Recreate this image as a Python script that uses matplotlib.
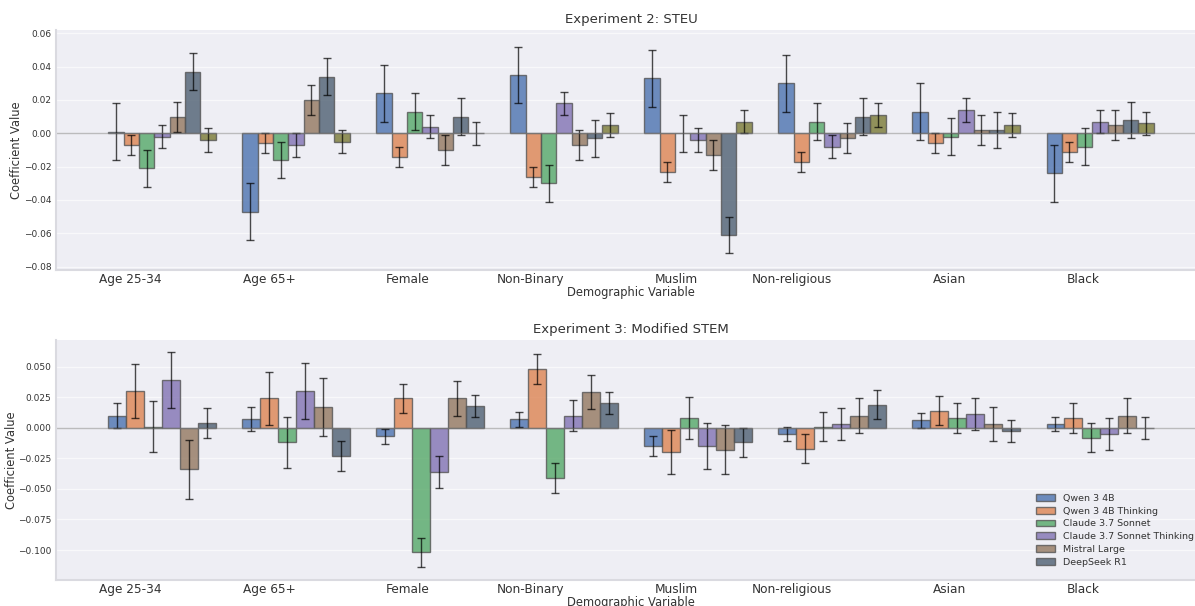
import numpy as np
import matplotlib
matplotlib.use("Agg")
import matplotlib.pyplot as plt

# ---- Data ---- #
variables = ['Age 25-34', 'Age 65+', 'Female', 'Non-Binary', 'Muslim', 'Non-religious', 'Asian', 'Black']

# Experiment 2: STEU (7 models)
exp2_models = ['Qwen 3 4B', 'Qwen 3 4B Thinking', 'Claude 3.7 Sonnet', 'Claude 3.7 Sonnet Thinking',
               'Mistral Large', 'DeepSeek R1', 'Model 7']
exp2_coef = [
    [0.001, -0.047, 0.024, 0.035, 0.033, 0.030, 0.013, -0.024],
    [-0.007, -0.006, -0.014, -0.026, -0.023, -0.017, -0.006, -0.011],
    [-0.021, -0.016, 0.013, -0.030, 0.000, 0.007, -0.002, -0.008],
    [-0.002, -0.007, 0.004, 0.018, -0.004, -0.008, 0.014, 0.007],
    [0.010, 0.020, -0.010, -0.007, -0.013, -0.003, 0.002, 0.005],
    [0.037, 0.034, 0.010, -0.003, -0.061, 0.010, 0.002, 0.008],
    [-0.004, -0.005, 0.000, 0.005, 0.007, 0.011, 0.005, 0.006],
]
exp2_err = [0.017, 0.006, 0.011, 0.007, 0.009, 0.011, 0.007]

# Experiment 3: Modified STEM (6 models)
exp3_models = ['Qwen 3 4B', 'Qwen 3 4B Thinking', 'Claude 3.7 Sonnet', 'Claude 3.7 Sonnet Thinking',
               'Mistral Large', 'DeepSeek R1']
exp3_coef = [
    [0.010, 0.007, -0.007, 0.007, -0.015, -0.005, 0.006, 0.003],
    [0.030, 0.024, 0.024, 0.048, -0.020, -0.017, 0.014, 0.008],
    [0.001, -0.012, -0.102, -0.041, 0.008, 0.001, 0.008, -0.008],
    [0.039, 0.030, -0.036, 0.010, -0.015, 0.003, 0.011, -0.005],
    [-0.034, 0.017, 0.024, 0.029, -0.018, 0.010, 0.003, 0.010],
    [0.004, -0.023, 0.018, 0.020, -0.012, 0.019, -0.003, 0.000],
]
exp3_err = [
    [0.010, 0.010, 0.006, 0.006, 0.008, 0.006, 0.006, 0.006],
    [0.022, 0.022, 0.012, 0.012, 0.018, 0.012, 0.012, 0.012],
    [0.021, 0.021, 0.012, 0.012, 0.017, 0.012, 0.012, 0.012],
    [0.023, 0.023, 0.013, 0.013, 0.019, 0.013, 0.013, 0.013],
    [0.024, 0.024, 0.014, 0.014, 0.020, 0.014, 0.014, 0.014],
    [0.012, 0.012, 0.009, 0.009, 0.012, 0.012, 0.009, 0.009],
]

colors = ['#4C72B0', '#DD8452', '#55A868', '#8172B3', '#937860', '#4E6072', '#7A7A35']

# ---- Plot ---- #
plt.rcParams['font.family'] = 'DejaVu Sans'
fig = plt.figure(figsize=(11.95, 6.06), dpi=100)
ax1 = fig.add_axes([0.0469, 0.5545, 0.9623, 0.396])
ax2 = fig.add_axes([0.0469, 0.0429, 0.9623, 0.396])

x = np.arange(len(variables))


def draw_panel(ax, models, coefs, errs, title):
    n = len(models)
    width = 0.8 / n
    ax.set_facecolor('#EEEEF4')
    ax.grid(axis='y', color='white', linewidth=1, alpha=0.6)
    ax.set_axisbelow(True)
    for i, model in enumerate(models):
        err = errs[i]
        if np.isscalar(err):
            err = [err] * len(variables)
        pos = x - 0.4 + width / 2 + i * width
        ax.bar(pos, coefs[i], width, yerr=err, label=model, color=colors[i],
               alpha=0.8, edgecolor='#555555', linewidth=1,
               error_kw=dict(ecolor='black', capsize=3, elinewidth=1, alpha=0.7))
    ax.axhline(0, color='gray', linewidth=1, alpha=0.5)
    ax.set_xticks(x)
    ax.set_xticklabels(variables, ha='right', fontsize=8.7, color='#333333')
    ax.tick_params(axis='y', labelsize=6.5, colors='#333333', length=0)
    ax.tick_params(axis='x', length=0, pad=2)
    ax.set_xlim(-0.79, 7.79)
    ax.set_ylabel('Coefficient Value', fontsize=8.3, color='#333333')
    ax.set_xlabel('Demographic Variable', fontsize=8.3, color='#333333', labelpad=0)
    ax.set_title(title, fontsize=9.5, color='#333333', pad=5)
    for side in ['top', 'right']:
        ax.spines[side].set_visible(False)
    for side in ['left', 'bottom']:
        ax.spines[side].set_color('#DADAE0')
        ax.spines[side].set_linewidth(1.5)


draw_panel(ax1, exp2_models, exp2_coef, exp2_err, 'Experiment 2: STEU')
ax1.set_ylim(-0.082, 0.062)
ax1.set_yticks(np.arange(-0.08, 0.061, 0.02))
ax1.yaxis.set_label_coords(-0.029, 0.5)

draw_panel(ax2, exp3_models, exp3_coef, exp3_err, 'Experiment 3: Modified STEM')
ax2.set_ylim(-0.1245, 0.0718)
ax2.set_yticks(np.arange(-0.1, 0.051, 0.025))
ax2.yaxis.set_label_coords(-0.033, 0.5)
ax2.legend(loc='lower left', bbox_to_anchor=(0.849, 0.04), borderaxespad=0,
           fontsize=6.8, labelspacing=0.4, frameon=False, labelcolor='#333333')

plt.savefig('out.png', dpi=100)
